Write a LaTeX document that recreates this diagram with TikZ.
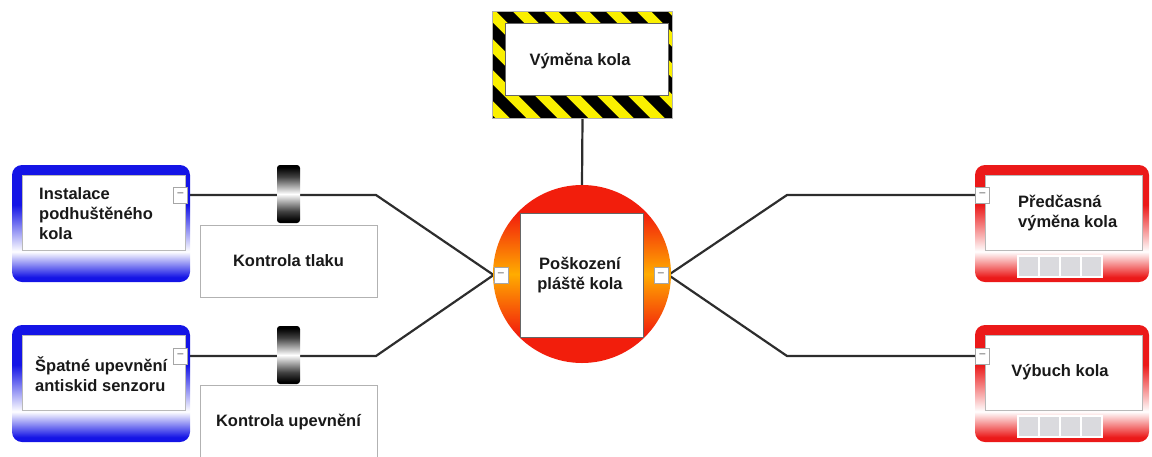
\documentclass[tikz,border=0pt]{standalone}
\usepackage{fontspec}
\setmainfont{Liberation Sans}
\usetikzlibrary{calc}

\definecolor{bxblue}{RGB}{20,20,230}
\definecolor{bxred}{RGB}{235,25,25}
\definecolor{ringred}{RGB}{242,30,12}
\definecolor{ringorange}{RGB}{255,172,0}
\definecolor{hazyellow}{RGB}{250,240,0}
\definecolor{wirecol}{RGB}{45,45,45}
\definecolor{txt}{RGB}{25,25,25}
\definecolor{slot}{RGB}{218,218,222}

% frame glow: solid colour with a white band just under the inner panel
\pgfdeclareverticalshading{glowblue}{100bp}{color(0bp)=(bxblue); color(27bp)=(bxblue); color(38bp)=(white); color(46bp)=(bxblue!40); color(58bp)=(bxblue); color(100bp)=(bxblue)}
\pgfdeclareverticalshading{glowred}{100bp}{color(0bp)=(bxred); color(27bp)=(bxred); color(38bp)=(white); color(46bp)=(bxred!40); color(58bp)=(bxred); color(100bp)=(bxred)}
% central disc: red caps, orange waist
\pgfdeclareverticalshading{discglow}{100bp}{color(0bp)=(ringred); color(33bp)=(ringred); color(50bp)=(ringorange); color(67bp)=(ringred); color(100bp)=(ringred)}
% tyre icon: dark rims, bright middle
\pgfdeclareverticalshading{tyre}{100bp}{color(0bp)=(black); color(27bp)=(black); color(35bp)=(black!75); color(50bp)=(white); color(65bp)=(black!75); color(73bp)=(black); color(100bp)=(black)}

\pgfdeclarelayer{wires}
\pgfsetlayers{wires,main}

\begin{document}
\begin{tikzpicture}[x=1pt,y=-1pt,
  lbl/.style={font=\bfseries\fontsize{16.5}{20}\selectfont, text=txt, inner sep=0pt},
  frameblue/.style={rectangle, rounded corners=10pt, shade, shading=glowblue, minimum width=178pt, minimum height=117pt, inner sep=0pt},
  framered/.style={rectangle, rounded corners=10pt, shade, shading=glowred, minimum width=174pt, minimum height=117pt, inner sep=0pt},
  panel/.style={rectangle, fill=white, draw=gray!55, line width=0.8pt, inner sep=0pt},
  btn/.style={rectangle, fill=white, draw=gray!70, line width=0.8pt, minimum width=14pt, minimum height=16pt, inner sep=0pt, text=gray!85, font=\bfseries\fontsize{12}{12}\selectfont},
  slotbox/.style={rectangle, fill=slot, draw=white, line width=1.2pt, minimum width=21pt, minimum height=21pt, inner sep=0pt},
  tyreicon/.style={rectangle, rounded corners=3pt, shade, shading=tyre, minimum width=23pt, minimum height=58pt, inner sep=0pt},
  checkbox/.style={rectangle, fill=white, draw=gray!60, line width=1pt, minimum width=177pt, inner sep=0pt, font=\bfseries\fontsize{16.5}{20}\selectfont, text=txt},
  wire/.style={draw=wirecol, line width=2.2pt, line join=miter},
]
\useasboundingbox (0,0) rectangle (1152,456);
\clip (0,0) rectangle (1152,456);

% ---------- left causes ----------
\node[frameblue] (frA) at (101,223.5) {};
\node[panel, minimum width=163pt, minimum height=75pt] (pnA) at (103.5,212.5) {};
\node[lbl, anchor=west, align=left] (txA) at (39,214) {Instalace\\podhuštěného\\kola};
\node[btn] (bA) at (180.5,195) {--};

\node[frameblue] (frB) at (101,383.5) {};
\node[panel, minimum width=163pt, minimum height=75pt] (pnB) at (103.5,372.5) {};
\node[lbl, anchor=west, align=left] (txB) at (35,374) {Špatné upevnění\\antiskid senzoru};
\node[btn] (bB) at (180.5,356) {--};

% ---------- barriers ----------
\node[checkbox, minimum height=72pt] (chA) at (288.5,261) {Kontrola tlaku};
\node[checkbox, minimum height=74pt] (chB) at (288.5,422) {Kontrola upevnění};
\node[tyreicon] (tyA) at (288.5,194) {};
\node[tyreicon] (tyB) at (288.5,355) {};

% ---------- hazard sign ----------
\node[rectangle, fill=hazyellow, minimum width=179pt, minimum height=106pt, inner sep=0pt] (haz) at (582.5,65) {};
\begin{scope}
  \clip (haz.north west) rectangle (haz.south east);
  \foreach \i in {-6,...,7}
    \draw[black, line width=11.5pt] ({493+\i*31},0) -- ++(140,140);
\end{scope}
\draw[gray!60, line width=0.8pt] (haz.north west) rectangle (haz.south east);
\node[panel, draw=gray!80!black, minimum width=163pt, minimum height=72pt] (hazin) at (586.5,59) {};
\node[lbl] (hazt) at (580,61) {Výměna kola};

% ---------- top event ----------
\node[circle, shade, shading=discglow, minimum size=178pt, inner sep=0pt] (core) at (582,274) {};
\node[panel, draw=gray!80!black, minimum width=123pt, minimum height=124pt] (corein) at (581.5,275) {};
\node[lbl, align=center] (coret) at (580,275) {Poškození\\pláště kola};
\node[btn] (cL) at (501,275) {--};
\node[btn] (cR) at (661,275) {--};

% ---------- consequences ----------
\node[framered] (frC) at (1062,223.5) {};
\node[panel, minimum width=157pt, minimum height=75pt] (pnC) at (1063.5,212.5) {};
\node[lbl, anchor=west, align=left] (txC) at (1018,213) {Předčasná\\výměna kola};
\node[btn] (bC) at (982.5,195) {--};
\foreach \k in {0,1,2,3}
  \node[slotbox] (sC\k) at ({1028.5+21*\k},266.5) {};

\node[framered] (frD) at (1062,383.5) {};
\node[panel, minimum width=157pt, minimum height=75pt] (pnD) at (1063.5,372.5) {};
\node[lbl] (txD) at (1060,372) {Výbuch kola};
\node[btn] (bD) at (982.5,356) {--};
\foreach \k in {0,1,2,3}
  \node[slotbox] (sD\k) at ({1028.5+21*\k},426.5) {};

% ---------- connectors ----------
\coordinate (kA) at (376,195);
\coordinate (kB) at (376,356);
\coordinate (kC) at (787,195);
\coordinate (kD) at (787,356);
\begin{pgfonlayer}{wires}
  \draw[wire] (bA.east) -- (kA) -- (cL.west);
  \draw[wire] (bB.east) -- (kB) -- (cL.west);
  \draw[wire] (cR.east) -- (kC) -- (bC.west);
  \draw[wire] (cR.east) -- (kD) -- (bD.west);
  \draw[wire] (haz.south) -- (core.north);
\end{pgfonlayer}
\end{tikzpicture}
\end{document}
